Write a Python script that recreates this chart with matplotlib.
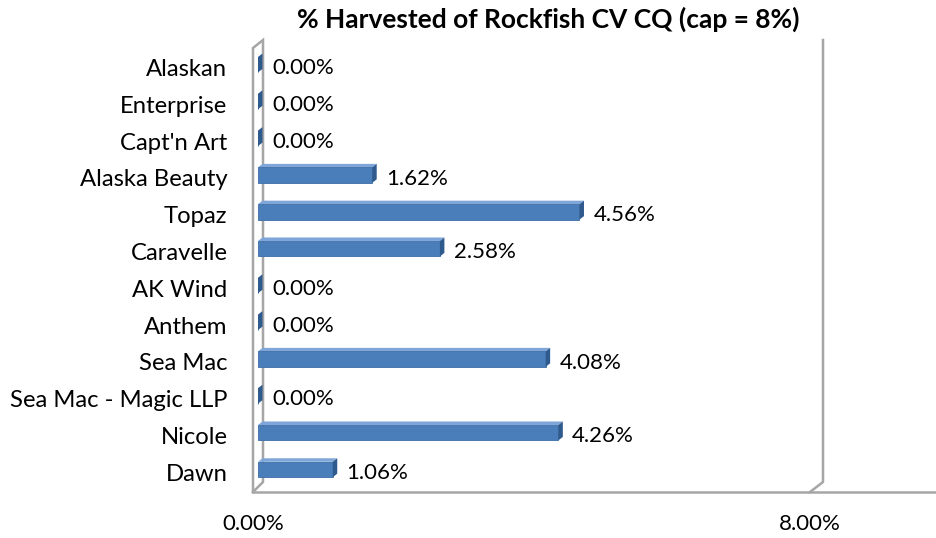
import matplotlib
matplotlib.use("Agg")
import matplotlib.pyplot as plt
import matplotlib.transforms as mtransforms
from matplotlib.patches import Polygon
import numpy as np

plt.rcParams['font.family'] = ['Lato', 'DejaVu Sans']

# data (bottom to top)
boats = ['Dawn', 'Nicole', 'Sea Mac - Magic LLP', 'Sea Mac', 'Anthem', 'AK Wind',
         'Caravelle', 'Topaz', 'Alaska Beauty', "Capt'n Art", 'Enterprise', 'Alaskan']
pct = [1.06, 4.26, 0.00, 4.08, 0.00, 0.00, 2.58, 4.56, 1.62, 0.00, 0.00, 0.00]
xtick_vals = [0, 8]
xtick_labels = ['0.00%', '8.00%']
title = '% Harvested of Rockfish CV CQ (cap = 8%)'

W, H = 936, 538
fig = plt.figure(figsize=(W / 100, H / 100), dpi=100)

# overlay in pixel coords for the 3d frame
bg = fig.add_axes([0, 0, 1, 1], zorder=0)
bg.set_xlim(0, W)
bg.set_ylim(H, 0)
bg.axis('off')

# main axes = back wall plane
ax_l, ax_r, ax_t, ax_b = 258, 822, 40, 482
ax = fig.add_axes([ax_l / W, 1 - ax_b / H, (ax_r - ax_l) / W, (ax_b - ax_t) / H], zorder=1)
ax.patch.set_alpha(0)
y0_px, step_px = 469.5, 36.8
ax.set_xlim(0, 8)
ax.set_ylim(-(ax_b - y0_px) / step_px, (len(boats) - 1) + (y0_px - (len(boats) - 1) * step_px - ax_t) / step_px)
for s in ax.spines.values():
    s.set_visible(False)
ax.set_xticks([])

y = np.arange(len(boats))
h = 0.42
front = '#4A7EBB'
top_c = '#7FA6D8'
side_c = '#2F5A8E'
dx = 4.5 / ((ax_r - ax_l) / 8)
dy = 3.5 / step_px

ax.barh(y, pct, height=h, color=front, edgecolor='#3D6DA6', linewidth=0.6, zorder=3)
for yi, v in zip(y, pct):
    topf = [(0, yi + h / 2), (v, yi + h / 2), (v + dx, yi + h / 2 + dy), (dx, yi + h / 2 + dy)]
    ax.add_patch(Polygon(topf, closed=True, facecolor=top_c, edgecolor='none', zorder=2))
    side = [(v, yi - h / 2), (v + dx, yi - h / 2 + dy), (v + dx, yi + h / 2 + dy), (v, yi + h / 2)]
    ax.add_patch(Polygon(side, closed=True, facecolor=side_c, edgecolor='none', zorder=4))
    ax.annotate(f'{v:.2f}%', (v, yi), xytext=(10, -2.5), textcoords='offset points',
                ha='left', va='center', fontsize=16, color='black', zorder=5)

ax.set_yticks(y)
ax.set_yticklabels(boats, fontsize=17.2)
ax.tick_params(axis='y', length=0, pad=22)
# nudge category labels down a little, like the reference
shift = mtransforms.ScaledTranslation(0, -2 / 72, fig.dpi_scale_trans)
for lab in ax.get_yticklabels():
    lab.set_transform(lab.get_transform() + shift)

# frame lines
gc = '#A6A6A6'
lw = 1.8
fb = 492
bg.plot([253, 253, 263, 263, 253], [fb, 48, 40, ax_b, fb], color=gc, lw=lw, solid_joinstyle='miter')
bg.plot([823, 823, 810], [ax_t, ax_b, fb], color=gc, lw=lw)
bg.plot([253, W], [fb, fb], color=gc, lw=lw)

# x tick labels on the front plane
front_x = lambda v: 253 + v * (810 - 253) / 8
for v, lab in zip(xtick_vals, xtick_labels):
    bg.text(front_x(v), 524, lab, ha='center', va='center', fontsize=16)

bg.text(548, 19, title, ha='center', va='center', fontsize=19, fontweight='bold')

fig.savefig('out.png', dpi=100)
